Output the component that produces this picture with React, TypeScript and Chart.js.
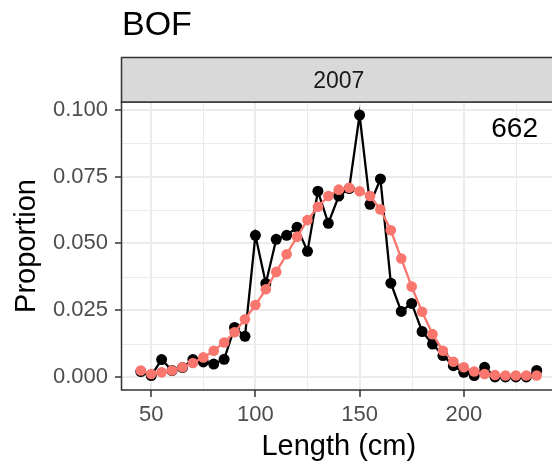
import React, { useEffect, useRef } from "react";
import { Chart, registerables } from "chart.js";

Chart.register(...registerables);

// Length classes (cm)
const lengths: number[] = [
  45, 50, 55, 60, 65, 70, 75, 80, 85, 90, 95, 100, 105, 110, 115, 120, 125, 130,
  135, 140, 145, 150, 155, 160, 165, 170, 175, 180, 185, 190, 195, 200, 205, 210,
  215, 220, 225, 230, 235,
];

// Observed proportion at length
const observed: number[] = [
  0.002, 0.0005, 0.0065, 0.0024, 0.0035, 0.0065, 0.0056, 0.0048, 0.0066, 0.0185,
  0.0152, 0.053, 0.035, 0.0515, 0.053, 0.056, 0.047, 0.0695, 0.0575, 0.0677,
  0.0705, 0.098, 0.0646, 0.0741, 0.0351, 0.0245, 0.0275, 0.017, 0.0123, 0.008,
  0.0042, 0.0017, 0.0005, 0.0036, 0, 0, 0, 0, 0.0024,
];

// Model-predicted proportion at length
const predicted: number[] = [
  0.0024, 0.0011, 0.0017, 0.0024, 0.0036, 0.0052, 0.0073, 0.0098, 0.0129, 0.0167,
  0.0216, 0.0269, 0.0328, 0.0393, 0.0459, 0.0525, 0.0587, 0.0637, 0.0677, 0.0701,
  0.0708, 0.0695, 0.0677, 0.0627, 0.0549, 0.0443, 0.0338, 0.0244, 0.016, 0.0098,
  0.0057, 0.0036, 0.002, 0.0011, 0.0007, 0.0005, 0.0005, 0.0005, 0.0005,
];

const xTicks: number[] = [50, 100, 150, 200];
const xMinor: number[] = [75, 125, 175, 225];
const yTicks: number[] = [0, 0.025, 0.05, 0.075, 0.1];
const yMinor: number[] = [0.0125, 0.0375, 0.0625, 0.0875];

const plotTitle = "BOF";
const stripLabel = "2007";
const sampleSize = 662;
const xTitle = "Length (cm)";
const yTitle = "Proportion";

const FONT = "'Liberation Sans', Arial, Helvetica, sans-serif";

// ggplot-style 5% expansion of the data range
const xLo = Math.min(...lengths);
const xHi = Math.max(...lengths);
const xPad = (xHi - xLo) * 0.05;
const yHi = Math.max(...observed, ...predicted);
const yPad = yHi * 0.05;

const decorations = {
  id: "panelDecorations",
  beforeDraw(chart: any) {
    const { ctx, chartArea: a, scales } = chart;
    ctx.save();
    ctx.fillStyle = "#ffffff";
    ctx.fillRect(0, 0, chart.width, chart.height);
    // minor grid
    ctx.strokeStyle = "#EBEBEB";
    ctx.lineWidth = 1;
    for (const v of xMinor) {
      const x = Math.round(scales.x.getPixelForValue(v)) + 0.5;
      ctx.beginPath();
      ctx.moveTo(x, a.top);
      ctx.lineTo(x, a.bottom);
      ctx.stroke();
    }
    for (const v of yMinor) {
      const y = Math.round(scales.y.getPixelForValue(v)) + 0.5;
      ctx.beginPath();
      ctx.moveTo(a.left, y);
      ctx.lineTo(a.right, y);
      ctx.stroke();
    }
    ctx.restore();
  },
  afterDatasetsDraw(chart: any) {
    const { ctx, chartArea: a } = chart;
    ctx.save();
    // panel border
    ctx.strokeStyle = "#333333";
    ctx.lineWidth = 1.5;
    ctx.strokeRect(a.left + 0.5, a.top, a.right - a.left + 10, a.bottom - a.top);

    // facet strip
    const stripTop = 57.5;
    ctx.fillStyle = "#D9D9D9";
    ctx.fillRect(a.left + 0.5, stripTop, chart.width, a.top - stripTop);
    ctx.strokeRect(a.left + 0.5, stripTop, chart.width, a.top - stripTop);
    ctx.fillStyle = "#1A1A1A";
    ctx.font = `23px ${FONT}`;
    ctx.textAlign = "center";
    ctx.textBaseline = "alphabetic";
    ctx.fillText(stripLabel, (a.left + a.right) / 2, 88);

    // sample size label
    ctx.fillStyle = "#000000";
    ctx.font = `28px ${FONT}`;
    ctx.textAlign = "right";
    ctx.fillText(String(sampleSize), 538, 137);

    // plot title
    ctx.font = `34px ${FONT}`;
    ctx.textAlign = "left";
    ctx.fillText(plotTitle, 122, 35);

    // axis titles
    ctx.font = `29px ${FONT}`;
    ctx.textAlign = "center";
    ctx.fillText(xTitle, (a.left + a.right) / 2, 455);
    ctx.translate(35, (a.top + a.bottom) / 2);
    ctx.rotate(-Math.PI / 2);
    ctx.fillText(yTitle, 0, 0);
    ctx.restore();
  },
};

export default function App() {
  const canvasRef = useRef<HTMLCanvasElement | null>(null);

  useEffect(() => {
    const canvas = canvasRef.current;
    if (!canvas) return;
    const chart = new Chart(canvas, {
      type: "line",
      data: {
        datasets: [
          {
            label: "Predicted",
            data: lengths.map((x, i) => ({ x, y: predicted[i] })),
            borderColor: "#F8766D",
            backgroundColor: "#F8766D",
            pointBackgroundColor: "#F8766D",
            pointBorderWidth: 0,
            pointRadius: 5.3,
            borderWidth: 2.3,
            order: 0,
          },
          {
            label: "Observed",
            data: lengths.map((x, i) => ({ x, y: observed[i] })),
            borderColor: "#000000",
            backgroundColor: "#000000",
            pointBackgroundColor: "#000000",
            pointBorderWidth: 0,
            pointRadius: 5.5,
            borderWidth: 2.3,
            order: 1,
          },
        ],
      },
      options: {
        responsive: false,
        animation: false,
        devicePixelRatio: 1,
        layout: { padding: { left: 0, top: 102, right: 2, bottom: 0 } },
        plugins: {
          legend: { display: false },
          tooltip: { enabled: false },
          title: { display: false },
        },
        scales: {
          x: {
            type: "linear",
            min: xLo - xPad,
            max: xHi + xPad,
            afterBuildTicks: (s: any) => {
              s.ticks = xTicks.map((value) => ({ value }));
            },
            afterFit: (s: any) => {
              s.height = 74;
            },
            border: { display: false },
            grid: {
              color: "#EBEBEB",
              lineWidth: 2,
              tickLength: 7,
              tickColor: "#333333",
              tickWidth: 1.5,
            },
            ticks: {
              font: { family: FONT, size: 22 },
              color: "#4D4D4D",
              padding: 5,
              maxRotation: 0,
              autoSkip: false,
              callback: (v: any) => String(v),
            },
          },
          y: {
            type: "linear",
            min: -yPad,
            max: yHi + yPad,
            afterBuildTicks: (s: any) => {
              s.ticks = yTicks.map((value) => ({ value }));
            },
            afterFit: (s: any) => {
              s.width = 121;
            },
            border: { display: false },
            grid: {
              color: "#EBEBEB",
              lineWidth: 2,
              tickLength: 6,
              tickColor: "#333333",
              tickWidth: 1.5,
            },
            ticks: {
              font: { family: FONT, size: 22 },
              color: "#4D4D4D",
              padding: 7,
              autoSkip: false,
              callback: (v: any) => Number(v).toFixed(3),
            },
          },
        },
      },
      plugins: [decorations],
    });
    return () => chart.destroy();
  }, []);

  return (
    <div
      style={{
        position: "fixed",
        left: 0,
        top: 0,
        width: 552,
        height: 464,
        overflow: "hidden",
        background: "#ffffff",
      }}
    >
      <canvas
        ref={canvasRef}
        width={562}
        height={464}
        style={{ width: 562, height: 464, display: "block" }}
      />
    </div>
  );
}
